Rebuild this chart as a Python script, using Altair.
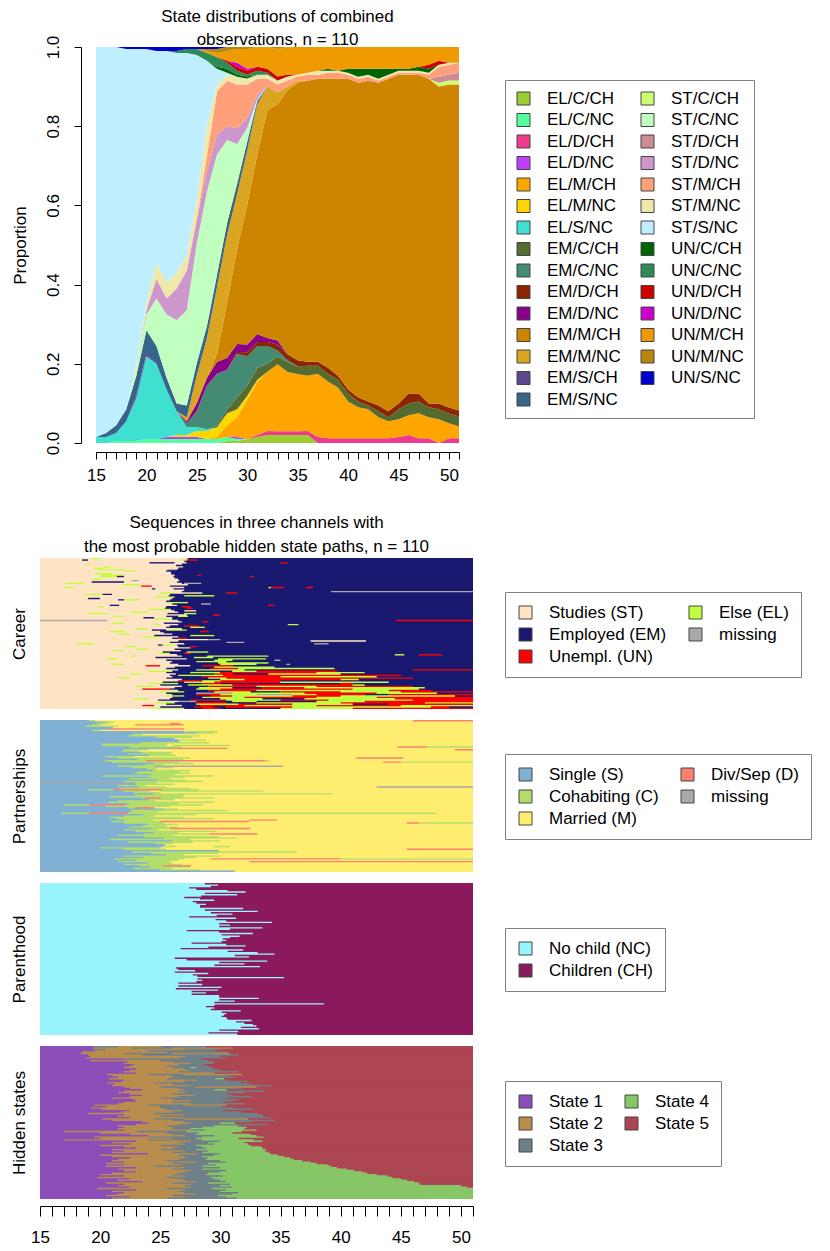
import pandas as pd
import altair as alt

AGES = list(range(15, 52))

# ---------------- top chart: state distribution (percent of 110) at ages 15..51 ----------------
EL_C_CH = [0,0,0,0,0,0,0,0,0,0,0,0,0, 0.5,0.5,1,1.5,2,2,2,2,2, 0,0,0,0,0,0,0,0,0,0,0,0,0,0,0]
EL_C_NC = [0,0,0.5,0.5,0.5,1,1,1,1,1,1,1,1,1,0.5, 0,0,0,0,0,0,0,0,0,0,0,0,0,0,0,0,0,0,0,0,0,0]
EL_D_CH = [0,0,0,0,0,0,0,0,0,0,0,0,0,0,0,0, 0.5,1,1,1,1,1,1.5,1.2,1.2,1.2,1.2,1.2,1.2,1.2,1.5,2,1.2,1.2,0,1.2,1.2]
EL_D_NC = [0,0,0,0,0,0,0, 0.5,0.5,0.5,0.5,0,0,0,0.5, 0,0,0,0,0,0,0,0,0,0,0,0,0,0,0,0,0,0,0,0,0,0]
EL_M_CH = [0,0,0,0,0,0,0,0,0,0,0,0, 0.5,3,5,10,13.5,15,17,15,14.5,14,16,14.3,12.8,9.3,7.8,7.3,5.3,4.3,4.5,5,6.3,5.3,6,3.8,3]
EL_M_NC = [0,0,0,0,0,0,0,0, 0.5,0.5,1.5,2,2.5,3,2,1,0.5, 0,0,0,0,0,0,0,0,0,0,0,0,0,0,0,0,0,0,0,0]
EL_S_NC = [1.5,1.5,2,5,11,21,19,12,6,2,1,0.5, 0,0,0,0,0,0,0,0,0,0,0,0,0,0,0,0,0,0,0,0,0,0,0,0,0]
EM_C_CH = [0,0,0,0,0,0,0,0,0,0,0,0, 0.5,1,3,2.5,3,2,2,2.5,2,2.5,2,2,2,2,1.5,1,1.5,1,2.5,3,3,2.5,2.5,2.5,2.5]
EM_C_NC = [0,0,0,0,0,0,0,0,0, 1,4,11,13,10,11,7.5,5.5,4.5,1.5,0.5, 0,0,0,0,0,0,0,0,0,0,0,0,0,0,0,0,0]
EM_D_CH = [0,0,0,0,0,0,0,0,0,0,0,0,0,0, 0.5,1,1,1,1.5,1.5,1.5,1,1,1.5,1,1,1,1,1.5,1.5,1.5,2.5,2,1,1.5,1.5,1.5]
EM_D_NC = [0,0,0,0, 0.5,0.5,0,0,0,0.5,2,2,3,3,2,2,2,1,1, 0,0,0,0,0,0,0,0,0,0,0,0,0,0,0,0,0,0]
EM_M_CH = [0,0,0,0,0,0,0,0,0,0,0,0, 2,14,24,35.5,45.5,57.5,60,67,70.5,71,71.5,73,75,78.5,79.5,81,81.5,84,83,80.5,80.5,82,80,82,82.5]
EM_M_NC = [0,0,0,0,0,0,0,0,0, 1,7,10,17,17,14,13.5,12.5,6,3,1,0.5, 0,0,0,0,0,0,0,0,0,0,0,0,0,0,0,0]
EM_S_CH = [0,0,0,0,0,0,0,0,0,0,0,0,0,0,0, 0.5,0.5, 0,0,0,0,0,0,0,0,0,0,0,0,0,0,0,0,0,0,0,0]
EM_S_NC = [0,1,2,3,5,6,4.5,3,2,3,3,3,3,3,2.5,2,0.5, 0,0,0,0,0,0,0,0,0,0,0,0,0,0,0,0,0,0,0,0]
ST_C_CH = [0,0,0,0,0,0,0,0,0,0,0,0, 0.5,1,1,0.5, 0,0,0,0,0,0,0,0,0,0,0,0,0,0,0,0,0,0, 1,1,1]
ST_C_NC = [0,0,0,0, 2,4,12,16,21,24,30,34,30,20,9,3,0.5, 0,0,0,0,0,0,0,0,0,0,0,0,0,0,0,0,0,0,0,0]
ST_D_CH = [0,0,0,0,0,0,0,0,0,0,0,0,0,0,0,0,0,0,0,0,0,0,0,0,0,0,0,0,0,0,0,0,0,0, 1.5,1.5,2]
ST_D_NC = [0,0,0,0,0, 1,5,4,8,10,6,5,5,3.5,4,2.5,1, 0,0,0,0,0,0,0,0,0,0,0,0,0,0,0,0,0,0,0,0]
ST_M_CH = [0,0,0,0,0,0,0,0,0,0,0, 4,11,11.5,11,8.5,4,2,2,1.5,1,1.5,1,1.5,1.5,1,1,1,0.5,0.5,0.5,0.5,0.5,1,2.5,2.5,2.5]
ST_M_NC = [0,0,0,0, 1,2,4,4,4,4,5,7.5,1.7,1.5,2,1.5,1,1,1,1,0.5,0.5,1,0.5,0.5,0.5,0.5,0.5,0.5,0.5,0.5,0.5,0.5,0.5,0.5,0.5,0]
ST_S_NC = [98.5,97.5,95.5,91,79.5,64,53.5,58.5,55.5,51,36,16.5,4,0.5, 0,0,0,0,0,0,0,0,0,0,0,0,0,0,0,0,0,0,0,0,0,0,0]
UN_C_CH = [0,0,0,0,0,0,0,0,0,0,0,0, 0.5,1,0.5,0.5, 0,0,0,0,0,0,0, 0.5,0,1,2,1.5,2.5,1.5,0.5,0.5,1,1,0,0,0]
UN_C_NC = [0,0,0,0,0,0,0,0, 0.5,1,1.5,2,2.5,1.5,1,0.5,1,0.5, 0,0,0,0,0,0,0,0,0,0,0,0,0,0,0,0,0,0,0]
UN_D_CH = [0,0,0,0,0,0,0,0,0,0,0,0,0, 0.5,1,1,1,1,1,0.5, 0,0,0,0,0,0,0,0,0,0,0,0,0, 1,1,0,0]
UN_D_NC = [0,0,0,0,0,0,0,0,0,0,0,0,0,0, 1,0.5, 0,0,0,0,0,0,0,0,0,0,0,0,0,0,0,0,0,0,0,0,0]
UN_M_CH = [0,0,0,0,0,0,0,0,0,0,0, 0.5,1,2.5,3.5,5,5,5.5,7,7,7,6.5,6,5.5,6,5.5,5.5,5.5,5.5,5.5,5.5,5.5,5,4.5,3.5,4,4]
UN_M_NC = [0,0,0,0,0,0,0,0,0,0,0, 0.5,1,1,0.5,0.5,0,0,0.5, 0,0,0,0,0,0,0,0,0,0,0,0,0,0,0,0,0,0]
UN_S_NC = [0,0,0, 0.5,0.5,0.5,1,1,1,0.5,0.5,0.5,0.5, 0,0,0,0,0,0,0,0,0,0,0,0,0,0,0,0,0,0,0,0,0,0,0,0]

TOP_STATES = ["EL/C/CH","EL/C/NC","EL/D/CH","EL/D/NC","EL/M/CH","EL/M/NC","EL/S/NC",
              "EM/C/CH","EM/C/NC","EM/D/CH","EM/D/NC","EM/M/CH","EM/M/NC","EM/S/CH","EM/S/NC",
              "ST/C/CH","ST/C/NC","ST/D/CH","ST/D/NC","ST/M/CH","ST/M/NC","ST/S/NC",
              "UN/C/CH","UN/C/NC","UN/D/CH","UN/D/NC","UN/M/CH","UN/M/NC","UN/S/NC"]
TOP_COLORS = ["#9ACD32","#54FF9F","#EE3A8C","#BF3EFF","#FFA500","#FFD700","#40E0D0",
              "#556B2F","#458B74","#8B2500","#8B008B","#CD8500","#DAA520","#5D478B","#36648B",
              "#CAFF70","#C1FFC1","#CD8C95","#CD96CD","#FFA07A","#EEE8AA","#BFEFFF",
              "#006400","#2E8B57","#CD0000","#CD00CD","#EE9A00","#B8860B","#0000CD"]
TOP_VALUES = [EL_C_CH, EL_C_NC, EL_D_CH, EL_D_NC, EL_M_CH, EL_M_NC, EL_S_NC,
              EM_C_CH, EM_C_NC, EM_D_CH, EM_D_NC, EM_M_CH, EM_M_NC, EM_S_CH, EM_S_NC,
              ST_C_CH, ST_C_NC, ST_D_CH, ST_D_NC, ST_M_CH, ST_M_NC, ST_S_NC,
              UN_C_CH, UN_C_NC, UN_D_CH, UN_D_NC, UN_M_CH, UN_M_NC, UN_S_NC]

# ---------------- sequences (110 rows, top to bottom); "code@age" = new spell from that age ----------------
CAREER = [
"S L@19.3 S@20 E@27.3", "S E@18.5 S@19 L@26.8 U@27.2 E@28.1", "S E@27", "S E@24.1 S@26.2 E@27.2 U@35 E@35.6",
"S L@18.7 S@19.3 E@26.8", "S E@26.3", "S L@20.3 S@20.9 E@26.9", "S L@19.5 S@20.2 E@26.5",
"S L@19.8 S@22 X@25.6 E@26.4", "S L@22 S@23 E@25.5", "S E@25.9", "S L@19.6 S@21 E@25.9",
"S L@20.1 S@22 E@26.2 U@28.1 E@28.4", "S L@20 E@21.4 S@22 E@26.1 U@32.5 E@32.8", "S E@26.2", "S L@19.3 S@20.2 E@26.5",
"S X@22.6 S@23.2 E@26.6", "S E@19.3 S@22 E@26.4", "S L@17.1 S@18.7 E@26.8 X@27 E@28.4", "S L@21.8 S@23.4 E@27.3",
"S U@23.4 S@24.3 E@25.8", "S L@17 S@17.8 E@27 L@34 U@34.2 E@35.3 U@37.1 E@37.7", "S E@24.3 S@24.6 E@26.1", "S E@27",
"S E@26.8 X@39.2", "S L@25 S@26 E@28.5 U@30.5 E@31.4", "S L@18.7 E@20.2 S@21 E@25.8", "S E@25.7 L@27 E@29.5",
"S L@24.5 E@26.2", "S E@19 S@20 E@26", "S E@21.5 L@22 S@23.3 E@25.8", "S E@25.5",
"S L@25.6 E@27.3", "S E@26 X@28.4 E@29.2", "S E@20.8 S@21.6 E@26.4 U@34 E@34.5", "S L@19.8 S@20.3 E@25.5 U@26.8 E@27.5",
"S E@25.4 U@27.2 E@27.7", "S L@24 E@25.9", "S E@26.2 S@27 E@28", "S L@22.5 S@24 E@26.5",
"S L@19 S@20.5 E@25.6 L@27 E@28", "S E@27.2 U@29.4 E@29.9", "S L@21 S@22 E@25.5 L@26.5 E@27.3", "S E@23.6 S@24.5 E@26",
"S L@24.5 E@26", "X S@20.6 E@26.5 U@44.6", "S E@26.8 U@28.5 E@29", "S L@21 S@22 E@25.3",
"S L@24.5 S@25 E@26.5 L@35.6 E@36.5", "S E@25.8 U@27 E@28.2", "S E@25.5 L@27.5 E@28.7", "S L@23 S@24 E@26.8",
"S E@24.3 L@25.5 E@27.2", "S L@20.8 S@22 E@25 U@28.3 E@29", "S E@25.3", "S L@21.5 S@22.5 E@26",
"S E@24.5 L@27.5 E@29.5", "S L@23.5 S@25 E@26.5", "S E@26 U@26.5 E@27.2", "S X@29 E@30",
"S E@26.5 S@37.5 E@42.1", "S E@25.8 X@30.5 E@32", "S L@18 S@19.5 E@27 X@37.8 E@39", "S E@24.8 L@25.2 E@26.4",
"S L@22 S@23 E@26.5 U@27.5 E@28", "S E@27.5", "S L@23 S@24 E@26.2", "S L@21 S@22 E@26.7",
"S E@25.2 L@27.2 E@29", "S L@24.8 E@25.8 U@27 E@27.5", "S E@26.4 L@44.5 E@45.3 U@46.5 E@48.4", "S L@22.5 S@23 E@26.8 L@28.9 E@34",
"S E@24.6 L@27.8 E@29.4", "S L@20.5 S@21.5 E@27.2 L@29.8 E@33.8", "S E@25.5 L@29.5 E@31 X@34.5 E@35", "S E@26 L@28 E@30.5",
"S E@25.8 L@29.8 E@34", "S L@21 S@22 E@26.5 L@30 E@33 X@35.5 E@35.8", "S U@23.8 S@25 E@27.5 U@28.5 E@31", "S E@26.2 L@29.5 E@34.5",
"S E@25.5 U@29.2 L@31.5 E@39.5", "S E@26.5 L@28 E@32 U@46", "S L@24 E@26 L@31 U@33 E@39.7", "S E@25.5 L@27.5 U@30 L@38 E@42",
"S L@22.5 S@23.5 E@26.3 U@29.5 E@31 L@34 E@40", "S E@25.8 L@26.5 U@30.2 E@45", "S E@26 U@28.5 L@35 E@43", "S L@21.5 S@22.5 E@25.5 L@29 U@30.5 E@46",
"S E@26.8 L@30 U@32 L@40 E@41.5", "S U@26.5 L@28.5 U@30 E@35", "S E@25.2 L@27 U@29.5 L@35 E@44", "S L@24 E@26.5 U@28.5 E@30 U@40 E@41",
"S E@25 L@27.3 U@31 L@41 E@42", "S L@23 S@24.5 E@26.8 U@29 L@33 U@38 E@46", "S E@26.2 L@28.2 E@31 U@33.5 L@37 E@47", "S U@23.5 E@25.8 L@28 U@30 L@41 E@46.5",
"S E@26.5 U@29 L@33 U@44 E@47.5", "S L@25 E@27 L@29.5 E@32.5 U@35 L@40 U@45", "S E@25.5 X@28 L@31 U@37 L@43 E@48", "S E@26 U@28 L@30 X@33 L@36 U@38 E@42 U@44",
"S L@25.5 E@27 U@29.2 L@31 U@36 L@40 E@49.5", "S E@26 L@28.5 U@32 L@38 U@43", "S L@22.8 S@24 E@25.8 L@30 E@33.5 L@37 U@44.5", "S E@24.8 U@27.5 L@30.5 U@35 L@39 U@46",
"S X@26.5 E@28 L@31 E@33 L@38 U@42", "S L@24.5 E@26.2 U@28 E@30.5 L@33 U@40 L@47", "S E@25.5 L@28 U@31.5 L@36 E@41 U@44", "S U@23.5 S@24.5 E@26.8 U@28.3 L@32 U@38 L@45",
"S E@25 U@27.8 E@29.4 U@30.5 L@36 U@47.5 E@49", "S L@24.2 E@27 U@28.5 E@30 L@35 U@41",
]

PARTNER = [
"S C@19.1 M@19.6 D@46", "S C@20.5 M@21.2", "S C@19.8 M@20.8 D@25.8 M@26.7", "S C@19.3 M@20.1 D@22.9 M@27",
"S C@18.8 M@21.5", "S M@21.1", "S D@20.7 M@27", "S C@19.3 M@20",
"S C@27 M@29.8", "S C@28.1 M@29.5", "S C@22.6 M@23.5", "S C@22.3 M@28.3",
"S C@24.7 M@27.7", "S M@26.2", "S C@26.5 M@28.8", "S M@26.6",
"S C@23.4 M@29.1", "S C@20.2 M@25.6", "S C@20.2 M@25.5 C@26 M@30.8", "S C@22.5 M@26.8 D@44.7 C@47.2",
"S D@25.8 M@30.6", "S C@22 M@24 D@49.5", "S C@21.8 M@23.2", "S C@23.5 M@26",
"S C@22.3 M@25.9", "S C@24.1 M@26.3", "S C@20.4 M@22.8", "S C@21.5 M@27.5 D@41.3 M@45.2",
"S C@23.2 M@26.9", "S C@20.4 D@23.8 C@33.7 M@34.1", "S C@21 M@26.5 D@43.5 C@45", "S C@24.5 M@27.8",
"S C@23.7 M@25.3", "S C@21.5 X@24.5 M@35.2", "S C@22.7 M@26.1", "S C@23.9 M@24.7",
"S C@24.4 M@27.5", "S C@23.2 M@26.7", "S C@22.9 M@27.5", "S C@24.3 M@26.2",
"S C@20.2 M@29.5", "S C@24.1 M@27", "S C@22.4 M@25.8", "S C@24.8 M@27.1",
"S C@22 M@28.6", "X C@22.9 M@24.7", "S C@23 M@26.2", "S C@21.4 M@23.8",
"S C@23.2 M@25.5 X@43", "S C@21.6 M@27.5", "S C@18.9 D@21.1 C@25.2 M@28.2", "S C@21.9 M@24.2 C@25 M@33.6",
"S C@22.8 M@25", "S C@24.5 M@39.4", "S C@22.9 M@27", "S C@20.8 M@26.9",
"S C@23.5 D@23.7 C@25.1 M@29.5", "S C@24 M@26.2", "S C@21.5 M@24.6", "S C@20.7 M@29.5",
"S C@22.4 M@26.5", "S C@17 D@19.1 C@22.2 M@28.6", "S C@20.5 M@25.8", "S C@22.3 D@22.9 M@24.5",
"S C@25.3 M@26.5", "S C@22.6 M@30.6", "S C@22.5 M@24.8", "S C@16.8 D@19.1 C@22.3 M@48",
"S C@23.6 M@28", "S C@22 M@24.5", "S C@20.8 M@27", "S C@21.4 M@29.5",
"S C@22.1 M@24.4 D@32.4 M@34.7", "S C@20.9 D@25 M@32.4", "S C@22 M@25.3 D@45.5 C@46.5", "S C@24 M@26.5",
"S C@23.5 M@25.5", "S C@22.4 M@26.5", "S C@24.3 D@25.8 M@32.5", "S C@22 M@24.8",
"S C@23 M@29.7", "S C@24.5 M@26.5", "S C@23.6 D@29.1 M@33.1", "S C@21.5 M@26",
"S C@23.7 M@29.9", "S C@25.3 M@31.3", "S C@20.8 M@27.5", "S C@26 M@30",
"S C@22.3 M@27.7", "S C@24.7 M@26.1", "S M@25.4", "S C@25.2 M@26.3 C@29.4 M@30.8",
"S C@20 M@25", "S C@22 M@25.5 D@45.5", "S M@29.9", "S C@22.6 M@36.4",
"S C@24.2 M@29.8", "S C@25.5 M@27", "S C@21.9 M@30", "S C@23.6 M@28",
"S C@21.2 M@27 D@29.2 C@40", "S C@23 M@26.5", "S C@21.5 M@25.8 D@32.4", "S C@24 M@26",
"S C@22 M@26.8", "S C@23.3 D@25.2 M@27.6", "S C@24.2 M@27.5", "S C@22.8 M@26",
"S C@25 M@28.3", "S M@31.2",
]

# age at first child for each of the 110 rows (no child before that age)
CHILD_AGE = [
28.7, 29.8, 29.2, 27.4, 28.0, 30.6, 32.1, 28.7, 31.4, 28.4,
27.0, 28.3, 29.5, 27.7, 28.0, 28.8, 28.3, 28.3, 31.9, 28.7,
33.1, 29.2, 31.0, 29.7, 27.4, 31.3, 29.6, 30.5, 34.3, 29.9,
30.8, 29.9, 33.5, 30.8, 27.2, 29.9, 32.7, 30.1, 31.6, 30.8,
30.2, 30.5, 30.1, 27.6, 30.5, 32.1, 29.0, 26.7, 31.9, 30.6,
33.1, 34.5, 31.2, 32.4, 26.2, 27.2, 33.9, 29.9, 32.0, 29.5,
33.3, 26.3, 26.5, 27.9, 26.2, 29.0, 27.7, 28.1, 35.3, 28.1,
28.5, 28.0, 26.5, 28.5, 26.5, 30.1, 26.3, 29.8, 27.6, 28.8,
27.6, 29.9, 29.9, 33.2, 29.9, 31.2, 29.5, 38.6, 29.5, 28.8,
29.5, 29.2, 31.7, 30.1, 30.5, 30.3, 30.1, 30.5, 30.6, 32.6,
31.3, 32.0, 32.7, 33.0, 31.7, 33.2, 29.9, 31.5, 29.0, 31.4,
]

HIDDEN = [
"1 3@19.4 2@21.5 3@25 5@28.7", "1 2@19.5 3@22.5 2@26 5@31", "1 3@19.3 2@20.5 3@27 5@29.8", "1 2@19.6 3@24 5@29.5",
"1 2@18.5 3@25.5 5@30.6", "1 2@18.4 3@22 2@26 5@30.8", "1 2@19 3@23.5 5@31.4", "1 2@19.2 3@27 5@30",
"1 2@18.8 3@26.5 5@30.5", "1 3@22 5@28.4", "1 2@19.2 3@25 5@29", "1 2@22.3 3@26 5@29.5",
"1 2@22 3@27.5 5@29.4", "1 2@22.8 3@26.5 5@28.5", "1 2@22.5 3@25.5 5@29", "1 2@22 3@26 4@27.5 3@28 5@29.3",
"1 2@23 3@27 5@29.5", "1 2@22.5 3@27.5 5@30", "1 2@22 3@26.5 5@31.5", "1 2@23 5@29.5",
"1 2@20.5 3@24 2@27 5@31.8", "1 2@21 3@26 5@30.6", "1 2@21.5 3@26 5@31.2", "1 2@20.8 3@25.5 4@29.6 5@30.3",
"1 2@22 3@28 5@30.5", "1 2@21.8 3@27 5@32.2", "1 2@20.6 3@24.5 5@31.5", "1 2@21.2 3@26 5@32.5",
"1 2@21 3@27.5 5@34.2", "1 2@22 3@25 2@28 5@33", "1 2@22.5 3@26.5 5@31.8", "1 2@23.5 3@27 4@29.5 5@30.5",
"1 2@22 3@26.5 5@33.6", "1 2@21.5 3@27 5@32", "1 2@22.5 3@26 5@30.5", "1 2@23.5 3@27.8 5@31",
"1 2@22.5 3@26.5 5@32.6", "1 2@21 3@25 5@30.5", "1 2@22.8 3@26 5@31.5", "1 2@23 3@27.5 5@31",
"1 2@22 3@26 5@30.2", "1 2@21.5 3@27.5 5@32", "1 2@19.5 3@24 2@27 5@30.5", "1 2@20.5 3@25 5@30.1",
"1 2@19.3 3@25 5@31", "1 2@20.2 3@25.5 5@32.7", "1 2@22.5 3@26.8 5@30.2", "1 2@21.8 3@26 5@31.8",
"1 2@19 3@24.5 5@33", "1 2@22 3@27 5@33.5", "1 2@21.5 3@25 5@33.5", "1 2@22.5 3@27 5@34.2",
"1 2@20.2 3@24.5 2@27 5@32.3", "1 2@21 3@26 5@34.5", "1 2@23.5 3@27 5@32.5", "1 2@24 3@27.5 4@30 5@31.2",
"1 2@23 3@26.5 5@33.8", "1 2@21.5 3@25.5 4@29.5 5@31.5", "1 2@22 3@26 4@28.5 5@32.2", "1 2@21.5 3@26 4@27.5 5@32",
"1 2@22 3@27.5 4@28.7 5@33", "1 2@17 3@23 4@27.2 5@31.8", "1 2@20 3@25.5 4@28.2 5@31", "1 2@22.5 3@26 4@28 5@32.5",
"1 2@24 3@27 4@29.5 5@33", "1 2@19.5 3@24 4@28.5 5@33.6", "1 2@20 3@26 4@28 5@31.5", "1 2@17 3@24 4@28.5 5@32.8",
"1 2@23 3@27.5 4@30 5@33.5", "1 2@21 3@26.5 4@29 5@32", "1 2@22.5 3@27 4@29.5 5@32.3", "1 2@20 3@25 4@28 5@32.5",
"1 2@22 3@26.5 4@28.5 5@33.4", "1 2@23 3@26 4@28.8 5@33.5", "1 2@21 3@25 4@28 5@33.8", "1 2@22 3@27 4@29 5@33.7",
"1 2@21 3@26 4@28.5 5@34", "1 2@24 3@28 4@30 5@34.2", "1 2@20 3@26.5 4@29.5 5@34.8", "1 2@21 3@27 4@28.5 5@35.3",
"1 2@22.5 3@27 4@29 5@35.8", "1 2@21.5 3@26.5 4@28.8 5@36.1", "1 2@21 3@25.5 4@30 5@36.8", "1 2@22 3@28 4@30.5 5@37.5",
"1 2@20.5 3@26 4@29 5@38", "1 2@22 3@26.8 4@29.6 5@38.9", "1 2@20.5 3@24.5 4@28.5 5@39.2", "1 2@23 3@27 4@30 5@39.7",
"1 2@21.5 3@26 4@28.5 5@40.5", "1 2@22 3@27.5 4@30.5 5@41.1", "1 2@23 3@27 4@30 5@41.8", "1 2@21 3@26.5 4@29 5@42.2",
"1 2@20 3@26 4@28.8 5@43", "1 2@22 3@27 4@30.2 5@43.9", "1 2@19.8 3@25.5 4@29.2 5@44.3", "1 2@22.5 3@26.5 4@29.5 5@45",
"1 2@21.5 3@27 4@30 5@45.5", "1 2@23.5 3@28 4@30.5 5@46.1", "1 2@20.5 3@26 4@29 5@46.5", "1 2@22 3@27.5 4@30.8 5@46.6",
"1 2@21.5 3@27 4@30 5@50", "1 2@22.5 3@27.5 4@31 5@50.5", "1 2@19.8 3@25.5 4@29.3", "1 2@23 3@27 4@30.5",
"1 2@21 3@26.5 4@30", "1 2@22 3@27 4@31.5", "1 2@21.5 3@28 4@31", "1 2@20.5 3@26 4@29.8",
"1 2@22.5 3@27 4@30.5", "1 2@21 3@25.6 4@31.4",
]

CAREER_LABELS = {"S": "Studies (ST)", "E": "Employed (EM)", "U": "Unempl. (UN)", "L": "Else (EL)", "X": "missing"}
PARTNER_LABELS = {"S": "Single (S)", "C": "Cohabiting (C)", "M": "Married (M)", "D": "Div/Sep (D)", "X": "missing"}
HIDDEN_LABELS = {"1": "State 1", "2": "State 2", "3": "State 3", "4": "State 4", "5": "State 5"}

FONT = "Liberation Sans"
N = 110
END = 51.0


def spells(rows, labels):
    recs = []
    for i, s in enumerate(rows):
        toks = s.split()
        cur, start = toks[0], 15.0
        segs = []
        for t in toks[1:]:
            c, a = t.split("@")
            segs.append((cur, start, float(a)))
            cur, start = c, float(a)
        segs.append((cur, start, END))
        for c, a, b in segs:
            recs.append({"state": labels[c], "start": a, "end": b,
                         "y0": i, "y1": min(i + 1.6, N)})
    return pd.DataFrame(recs)


career_df = spells(CAREER, CAREER_LABELS)
partner_df = spells(PARTNER, PARTNER_LABELS)
hidden_df = spells(HIDDEN, HIDDEN_LABELS)
parent_rows = ["N C@%s" % a for a in CHILD_AGE]
parent_df = spells(parent_rows, {"N": "No child (NC)", "C": "Children (CH)"})

top_recs = []
for k, (st, vals) in enumerate(zip(TOP_STATES, TOP_VALUES)):
    for age, v in zip(AGES, vals):
        top_recs.append({"age": age, "state": st, "value": v, "idx": k})
top_df = pd.DataFrame(top_recs)

label_expr5 = "datum.value % 5 === 0 ? datum.label : ''"

top = alt.Chart(top_df).mark_area(interpolate="linear").encode(
    x=alt.X("age:Q", scale=alt.Scale(domain=[15, 51], range=[56, 419], nice=False, zero=False),
            axis=alt.Axis(values=AGES, labelExpr=label_expr5, tickSize=7, offset=9, labelPadding=8,
                          title=None, grid=False, labelFlush=False, labelOverlap=False)),
    y=alt.Y("value:Q", stack="normalize", scale=alt.Scale(domain=[0, 1], nice=False),
            axis=alt.Axis(values=[0, 0.2, 0.4, 0.6, 0.8, 1.0], labelExpr="format(datum.value, '.1f')",
                          labelAngle=270, labelAlign="center", labelBaseline="bottom", tickSize=7,
                          offset=-41, labelPadding=12, title="Proportion", titlePadding=15,
                          minExtent=37, maxExtent=37, grid=False, labelFlush=False)),
    color=alt.Color("state:N", scale=alt.Scale(domain=TOP_STATES, range=TOP_COLORS),
                    legend=alt.Legend(orient="none", legendX=465, legendY=33, columns=2, title=None,
                                      columnPadding=18, padding=10, rowPadding=3.5)),
    order=alt.Order("idx:Q", sort="ascending"),
).properties(
    width=419, height=396,
    title=alt.TitleParams(text=["State distributions of combined", "observations, n = 110"],
                          anchor="middle", dx=28, dy=31, offset=0, baseline="bottom", lineHeight=23,
                          frame="group"),
)


def seq_chart(df, domain, rng, ytitle, height, legend_y, cols=2, show_x=False, title=None,
              label_expr=None):
    leg_kw = dict(orient="none", legendX=465, legendY=legend_y, columns=cols, title=None,
                  columnPadding=20)
    if label_expr:
        leg_kw["labelExpr"] = label_expr
    if show_x:
        xaxis = alt.Axis(values=AGES, labelExpr=label_expr5, tickSize=10, offset=7, labelPadding=13,
                         title=None, grid=False, labelFlush=False, labelOverlap=False)
    else:
        xaxis = None
    ch = alt.Chart(df).mark_rect().encode(
        x=alt.X("start:Q", scale=alt.Scale(domain=[15, 51], nice=False, zero=False), axis=xaxis),
        x2="end:Q",
        y=alt.Y("y0:Q", scale=alt.Scale(domain=[0, N], reverse=True, nice=False, zero=False),
                axis=alt.Axis(title=ytitle, labels=False, ticks=False, domain=False, grid=False,
                              minExtent=0, maxExtent=0, titlePadding=12)),
        y2="y1:Q",
        color=alt.Color("state:N", scale=alt.Scale(domain=domain, range=rng),
                        legend=alt.Legend(**leg_kw)),
    )
    props = dict(width=433, height=height)
    if title is not None:
        props["title"] = title
    return ch.properties(**props)


nb8 = "\u00a0" * 8
nb10 = "\u00a0" * 10
career = seq_chart(
    career_df,
    ["Studies (ST)", "Employed (EM)", "Unempl. (UN)", "Else (EL)", "missing"],
    ["#FFE4C4", "#191970", "#FF0000", "#C0FF3E", "#A9A9A9"],
    "Career", 151, 34,
    title=alt.TitleParams(text=["Sequences in three channels with",
                                "the most probable hidden state paths, n = 110"],
                          anchor="middle", offset=0, dy=15, baseline="bottom", lineHeight=24,
                          frame="group"),
    label_expr="datum.label == 'missing' ? 'missing%s' : datum.label" % nb8,
)
partner = seq_chart(
    partner_df,
    ["Single (S)", "Cohabiting (C)", "Married (M)", "Div/Sep (D)", "missing"],
    ["#80B1D3", "#B3DE69", "#FFED6F", "#FB8072", "#A9A9A9"],
    "Partnerships", 152, 34,
    label_expr="datum.label == 'missing' ? 'missing%s' : datum.label" % nb10,
)
parent = seq_chart(
    parent_df,
    ["No child (NC)", "Children (CH)"],
    ["#98F5FF", "#8B1A5C"],
    "Parenthood", 152, 45, cols=1,
)
hidden = seq_chart(
    hidden_df,
    ["State 1", "State 2", "State 3", "State 4", "State 5"],
    ["#8C4EB8", "#B98D4C", "#6F8088", "#87C667", "#AC4652"],
    "Hidden states", 153, 35, show_x=True,
)

bottom = alt.vconcat(career, partner, parent, hidden, spacing=11, bounds="flush").resolve_scale(
    color="independent", x="independent", y="independent").resolve_legend(color="independent")

chart = alt.vconcat(top, bottom, spacing=115, bounds="flush").resolve_scale(
    color="independent", x="independent", y="independent").resolve_legend(color="independent")

chart = chart.properties(padding={"left": 2, "top": 0, "right": 0, "bottom": 0}).configure(
    font=FONT
).configure_view(stroke=None).configure_axis(
    labelFontSize=17, titleFontSize=17, titleFontWeight="normal", labelColor="black",
    titleColor="black", domainColor="black", tickColor="black", labelFont=FONT, titleFont=FONT,
).configure_legend(
    labelFontSize=17, labelFont=FONT, labelColor="black", symbolType="square", symbolSize=169,
    symbolStrokeColor="#444444", symbolStrokeWidth=1, padding=12, strokeColor="#808080",
    fillColor="white", rowPadding=4, labelOffset=15, symbolOpacity=1, labelLimit=400,
).configure_title(fontSize=17, fontWeight="normal", font=FONT, color="black")

chart.save("out.html", embed_options={"renderer": "svg", "actions": False})
